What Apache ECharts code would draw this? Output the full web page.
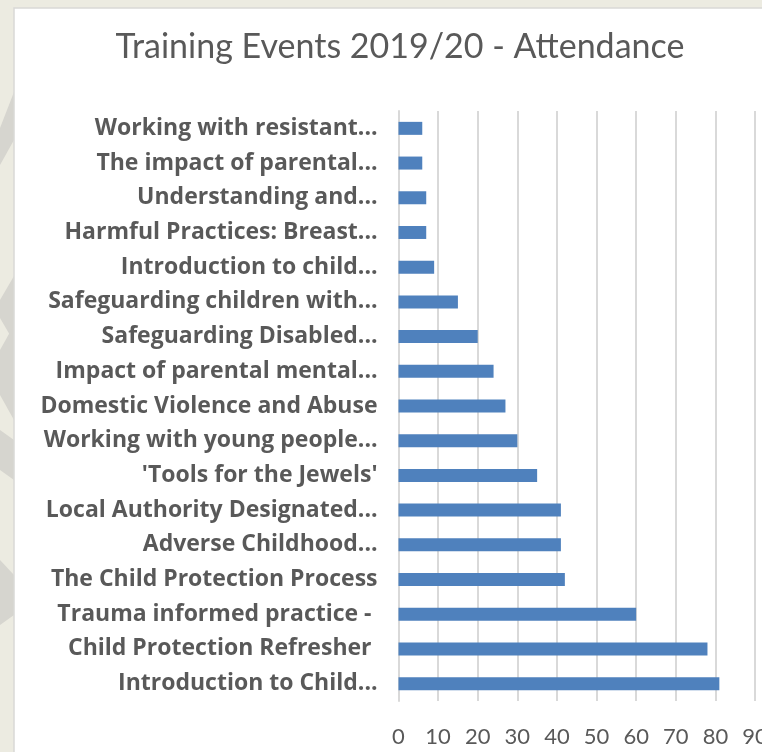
<!DOCTYPE html>
<html>
<head>
<meta charset="utf-8">
<script src="https://cdn.jsdelivr.net/npm/echarts@6/dist/echarts.min.js"></script>
<style>
  html, body { margin: 0; padding: 0; background: #ecebe1; }
  #chart { width: 762px; height: 752px; }
</style>
</head>
<body>
<div id="chart"></div>
<script>
// training events, top to bottom as shown
const events = [
  "Working with resistant...",
  "The impact of parental...",
  "Understanding and...",
  "Harmful Practices: Breast...",
  "Introduction to child...",
  "Safeguarding children with...",
  "Safeguarding Disabled...",
  "Impact of parental mental...",
  "Domestic Violence and Abuse",
  "Working with young people...",
  "'Tools for the Jewels'",
  "Local Authority Designated...",
  "Adverse Childhood...",
  "The Child Protection Process",
  "Trauma informed practice - ",
  "Child Protection Refresher ",
  "Introduction to Child..."
];
const attendance = [6, 6, 7, 7, 9, 15, 20, 24, 27, 30, 35, 41, 41, 42, 60, 78, 81];
const xTicks = [0, 10, 20, 30, 40, 50, 60, 70, 80, 90];

const chart = echarts.init(document.getElementById("chart"));
const textColor = "#595959";
const gridColor = "#d9d9d9";

chart.setOption({
  backgroundColor: "#ecebe1",
  animation: false,
  graphic: [
    // white panel
    { type: "rect", z: -10, shape: { x: 14, y: 8, width: 760, height: 760 },
      style: { fill: "#ffffff", stroke: "#d9d9d6", lineWidth: 1.5 } },
    // grey chevrons on the left strip
    { type: "polygon", z: -11, shape: { points: [[0, 128], [14, 92], [14, 140], [0, 165]] }, style: { fill: "#d6d5cf" } },
    { type: "polygon", z: -11, shape: { points: [[0, 300], [14, 276], [14, 342], [0, 318]] }, style: { fill: "#d6d5cf" } },
    { type: "polygon", z: -11, shape: { points: [[0, 350], [14, 325], [14, 420], [0, 395]] }, style: { fill: "#d6d5cf" } },
    { type: "polygon", z: -11, shape: { points: [[0, 430], [14, 440], [14, 480], [0, 470]] }, style: { fill: "#d6d5cf" } },
    { type: "polygon", z: -11, shape: { points: [[0, 560], [14, 575], [14, 615], [0, 625]] }, style: { fill: "#d6d5cf" } }
  ],
  title: {
    text: "Training Events 2019/20 - Attendance",
    left: 395,
    textAlign: "center",
    top: 25,
    textStyle: {
      fontFamily: "Lato",
      fontWeight: "normal",
      fontSize: 34,
      color: textColor
    }
  },
  grid: {
    left: 398.5,
    right: 7,
    top: 111,
    bottom: 51,
    containLabel: false,
    outerBoundsMode: "none"
  },
  xAxis: {
    type: "value",
    min: xTicks[0],
    max: xTicks[xTicks.length - 1],
    interval: 10,
    axisLine: { show: false },
    axisTick: { show: false },
    splitLine: { show: true, lineStyle: { color: gridColor, width: 2 } },
    axisLabel: {
      margin: 25,
      color: textColor,
      fontFamily: "Lato",
      fontSize: 22,
      showMaxLabel: true
    }
  },
  yAxis: {
    type: "category",
    inverse: true,
    data: events,
    axisLine: { show: true, lineStyle: { color: gridColor, width: 2 } },
    axisTick: { show: false },
    axisLabel: {
      margin: 21,
      padding: [6, 0, 0, 0],
      color: textColor,
      fontFamily: "Open Sans",
      fontWeight: "bold",
      fontSize: 23
    }
  },
  series: [
    {
      type: "bar",
      data: attendance,
      barWidth: 13,
      itemStyle: { color: "#4f81bd" }
    }
  ]
});
</script>
</body>
</html>
